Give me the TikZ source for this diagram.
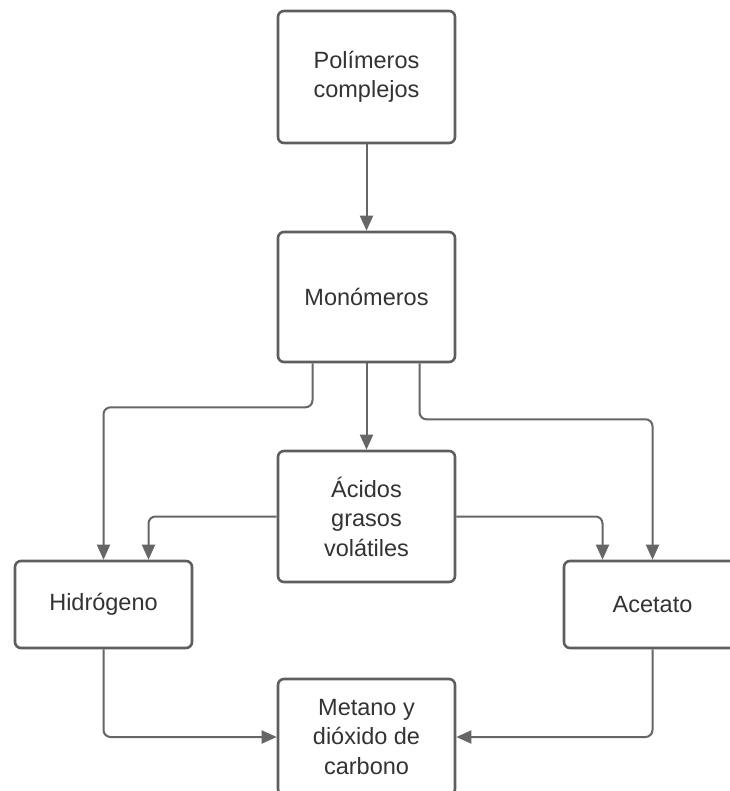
\documentclass[tikz,border=0pt]{standalone}
\usepackage{fontspec}
\setmainfont{Liberation Sans}
\usetikzlibrary{arrows.meta,positioning}
\definecolor{boxline}{HTML}{5E5E5E}
\definecolor{connline}{HTML}{666666}
\definecolor{txt}{HTML}{333333}

\begin{document}
\begin{tikzpicture}[x=1pt, y=-1pt,
	box/.style = {draw=boxline, line width=2.6pt, rounded corners=6pt, fill=white,
		minimum width=177pt, text=txt, align=center, inner sep=0pt,
		font=\fontsize{23.5}{29.5}\selectfont},
	conn/.style = {draw=connline, line width=2pt, rounded corners=7pt,
		-{Triangle[length=15pt, width=13pt]}}]
	\useasboundingbox (0,0) rectangle (729,791);
	
	\node[box, minimum height=132pt] (pol) at (366.5,77) {Polímeros\\complejos};
	\node[box, minimum height=130pt] (mon) at (366.5,297) {Monómeros};
	\node[box, minimum height=131pt] (aci) at (366.5,516.5) {Ácidos\\grasos\\volátiles};
	\node[box, minimum height=87pt] (hid) at (103.5,604.5) {Hidrógeno};
	\node[box, minimum height=87pt] (ace) at (652.5,604.5) {Acetato};
	\node[box, minimum height=116pt] (met) at (366.5,737) {Metano y\\dióxido de\\carbono};
	
	\draw[conn] (pol) -- (mon);
	\draw[conn] (mon) -- (aci);
	\draw[conn] ([xshift=-54pt]mon.south) -- ++(0,44) -| (hid.north);
	\draw[conn] ([xshift=53pt]mon.south) -- ++(0,56) -| (ace.north);
	\draw[conn] (aci.west) -| ([xshift=45pt]hid.north);
	\draw[conn] (aci.east) -| ([xshift=-50pt]ace.north);
	\draw[conn] (hid.south) |- (met.west);
	\draw[conn] (ace.south) |- (met.east);
\end{tikzpicture}
\end{document}
